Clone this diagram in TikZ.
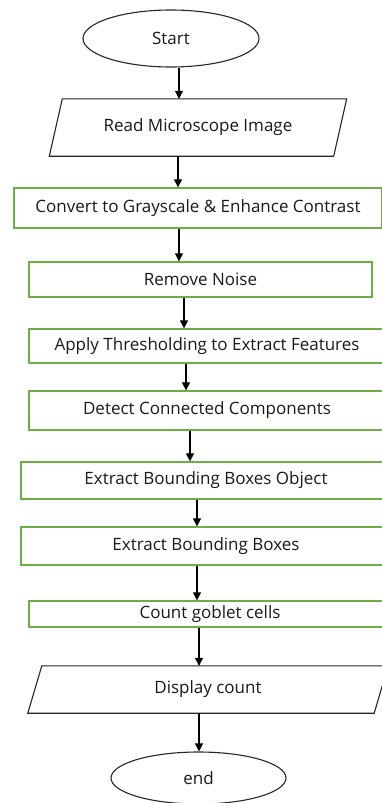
\documentclass[tikz,border=0pt]{standalone}
\usepackage{fontspec}
\setmainfont{Open Sans}
\usetikzlibrary{shapes.geometric,arrows.meta,calc}
\definecolor{boxgreen}{RGB}{106,176,66}
\definecolor{txt}{RGB}{25,25,25}
\begin{document}
\begin{tikzpicture}[x=1pt,y=-1pt,
  font=\fontsize{17}{20}\selectfont,
  procbox/.style={draw=boxgreen, line width=1.3pt, rectangle, inner sep=0pt, text=txt},
  term/.style={draw=black!85, line width=1.1pt, ellipse, inner sep=0pt, text=txt},
  iotext/.style={rectangle, inner sep=0pt, text=txt},
  ioline/.style={draw=black!85, line width=1.1pt, line join=miter},
  arr/.style={draw=black, line width=1.1pt, -{Triangle[length=8pt,width=8pt]}}]
\useasboundingbox (0,0) rectangle (382,803);
\clip (0,0) rectangle (382,803);

\node[term, minimum width=176pt, minimum height=57pt] (start) at (171,38.5) {Start};

\node[iotext, minimum width=284pt, minimum height=57pt] (read) at (198,127.5) {\raisebox{4pt}{Read Microscope Image}};
\draw[ioline] ($(read.north west)+(6.5,0)$) -- ($(read.north east)+(6.5,0)$) -- ($(read.south east)+(-6.5,0)$) -- ($(read.south west)+(-6.5,0)$) -- cycle;

\node[procbox, minimum width=368pt, minimum height=40pt] (b1) at (198,208) {Convert to Grayscale \& Enhance Contrast};
\node[procbox, minimum width=343pt, minimum height=35pt] (b2) at (200.5,279.5) {Remove Noise};
\node[procbox, minimum width=356pt, minimum height=34pt] (b3) at (207,346) {Apply Thresholding to Extract Features};
\node[procbox, minimum width=356pt, minimum height=39pt] (b4) at (207,410.5) {Detect Connected Components};
\node[procbox, minimum width=370pt, minimum height=37pt] (b5) at (206,480.5) {Extract Bounding Boxes Object};
\node[procbox, minimum width=370pt, minimum height=38pt] (b6) at (206,546) {Extract Bounding Boxes};
\node[procbox, minimum width=362pt, minimum height=26pt] (b7) at (210,614) {Count goblet cells};

\node[iotext, minimum width=346pt, minimum height=47pt] (disp) at (208,689.5) {Display count};
\draw[ioline] ($(disp.north west)+(7,0)$) -- ($(disp.north east)+(7,0)$) -- ($(disp.south east)+(-7,0)$) -- ($(disp.south west)+(-7,0)$) -- cycle;

\node[term, minimum width=175pt, minimum height=52pt] (end) at (198.5,778) {end};

\coordinate (xa) at (179,0);
\coordinate (xb) at (178,0);
\coordinate (xc) at (184,0);
\coordinate (xd) at (186,0);
\coordinate (xe) at (190,0);
\coordinate (xf) at (197,0);
\coordinate (xg) at (199,0);

\draw[arr] (start.south -| xa) -- (read.north -| xa);
\draw[arr] (read.south -| xb) -- (b1.north -| xb);
\draw[arr] (b1.south -| xa) -- (b2.north -| xa);
\draw[arr] (b2.south -| xc) -- (b3.north -| xc);
\draw[arr] (b3.south -| xd) -- (b4.north -| xd);
\draw[arr] (b4.south -| xe) -- (b5.north -| xe);
\draw[arr] (b5.south -| xf) -- (b6.north -| xf);
\draw[arr] (b6.south -| xf) -- (b7.north -| xf);
\draw[arr] (b7.south -| xg) -- (disp.north -| xg);
\draw[arr] (disp.south -| xg) -- (end.north -| xg);
\end{tikzpicture}
\end{document}
